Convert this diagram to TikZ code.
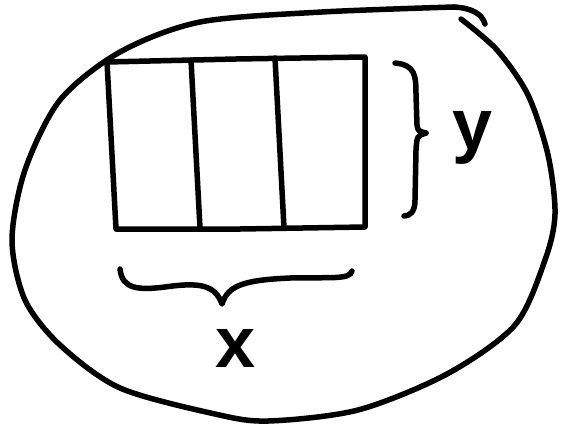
\documentclass[tikz,border=0pt]{standalone}
\usepackage{fontspec}
\setmainfont{Liberation Sans}
\begin{document}
\begin{tikzpicture}[x=1pt,y=-1pt,
  ink/.style={line width=5.5pt,line cap=round,line join=round,black},
  lbl/.style={font=\fontsize{72}{72}\selectfont\bfseries,inner sep=0pt}]
\useasboundingbox[fill=white] (0,0) rectangle (561,428);
% outer blob
\draw[ink] plot[smooth,tension=0.5] coordinates {
  (454,7) (322,12) (200,22) (120,52) (60,100) (25,170)
  (12,240) (25,300) (60,345) (120,388) (215,414) (268,421) (358,410)
  (447,374) (515,325) (545,260) (555,214) (548,155) (528,95) (497,50) (461,19)};
\draw[ink] (454,7) .. controls (472,8) and (482,14) .. (485,24);
% rectangle with three cells
\draw[ink] (107,62) -- (236,59) -- (365,57) -- (365,227) -- (240,229) -- (116,229) -- cycle;
\draw[ink] (191,60) -- (200,228);
\draw[ink] (275,58) -- (284,228);
% right brace
\draw[ink] (395,63) .. controls (415,65) and (416,75) .. (416,95) -- (417,125)
  .. controls (418,131) .. (426,133);
\draw[ink] (426,133) .. controls (417,136) .. (416,150) -- (415,200)
  .. controls (415,212) and (410,216) .. (404,216);
% bottom brace
\draw[ink] (120,269) .. controls (122,290) and (140,290) .. (165,287)
  .. controls (200,282) and (215,285) .. (222,304)
  .. controls (228,285) and (245,280) .. (290,278)
  .. controls (330,277) and (350,280) .. (352,271);
% labels
\node[lbl] (ylab) at (473,138) {y};
\node[lbl] (xlab) at (236,348) {x};
\end{tikzpicture}
\end{document}
